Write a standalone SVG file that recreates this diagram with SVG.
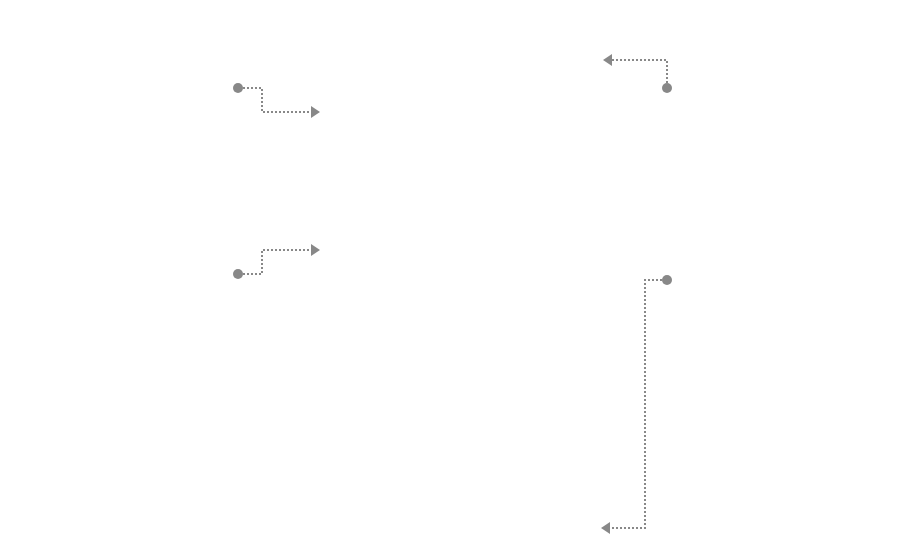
<svg xmlns="http://www.w3.org/2000/svg" width="920" height="553" viewBox="0 0 920 553">
<style>
.c{fill:none;stroke:#888;stroke-width:2;stroke-dasharray:2 2}
.d{fill:#888}
</style>
<defs>
<marker id="a" markerUnits="userSpaceOnUse" markerWidth="10" markerHeight="12" viewBox="0 0 10 12" refX="0" refY="6" orient="auto">
<path d="M0,0 L9,6 L0,12 Z" fill="#888"/>
</marker>
</defs>
<rect width="920" height="553" fill="#fff"/>
<g id="connectors">
<g id="c1"><path class="c" d="M243,88 H262 V112 H311" marker-end="url(#a)"/><circle class="d" cx="238" cy="88" r="5"/></g>
<g id="c2"><path class="c" d="M667,83 V60 H612" marker-end="url(#a)"/><circle class="d" cx="667" cy="88" r="5"/></g>
<g id="c3"><path class="c" d="M243,274 H262 V250 H311" marker-end="url(#a)"/><circle class="d" cx="238" cy="274" r="5"/></g>
<g id="c4"><path class="c" d="M662,280 H645 V528 H610" marker-end="url(#a)"/><circle class="d" cx="667" cy="280" r="5"/></g>
</g>
</svg>
